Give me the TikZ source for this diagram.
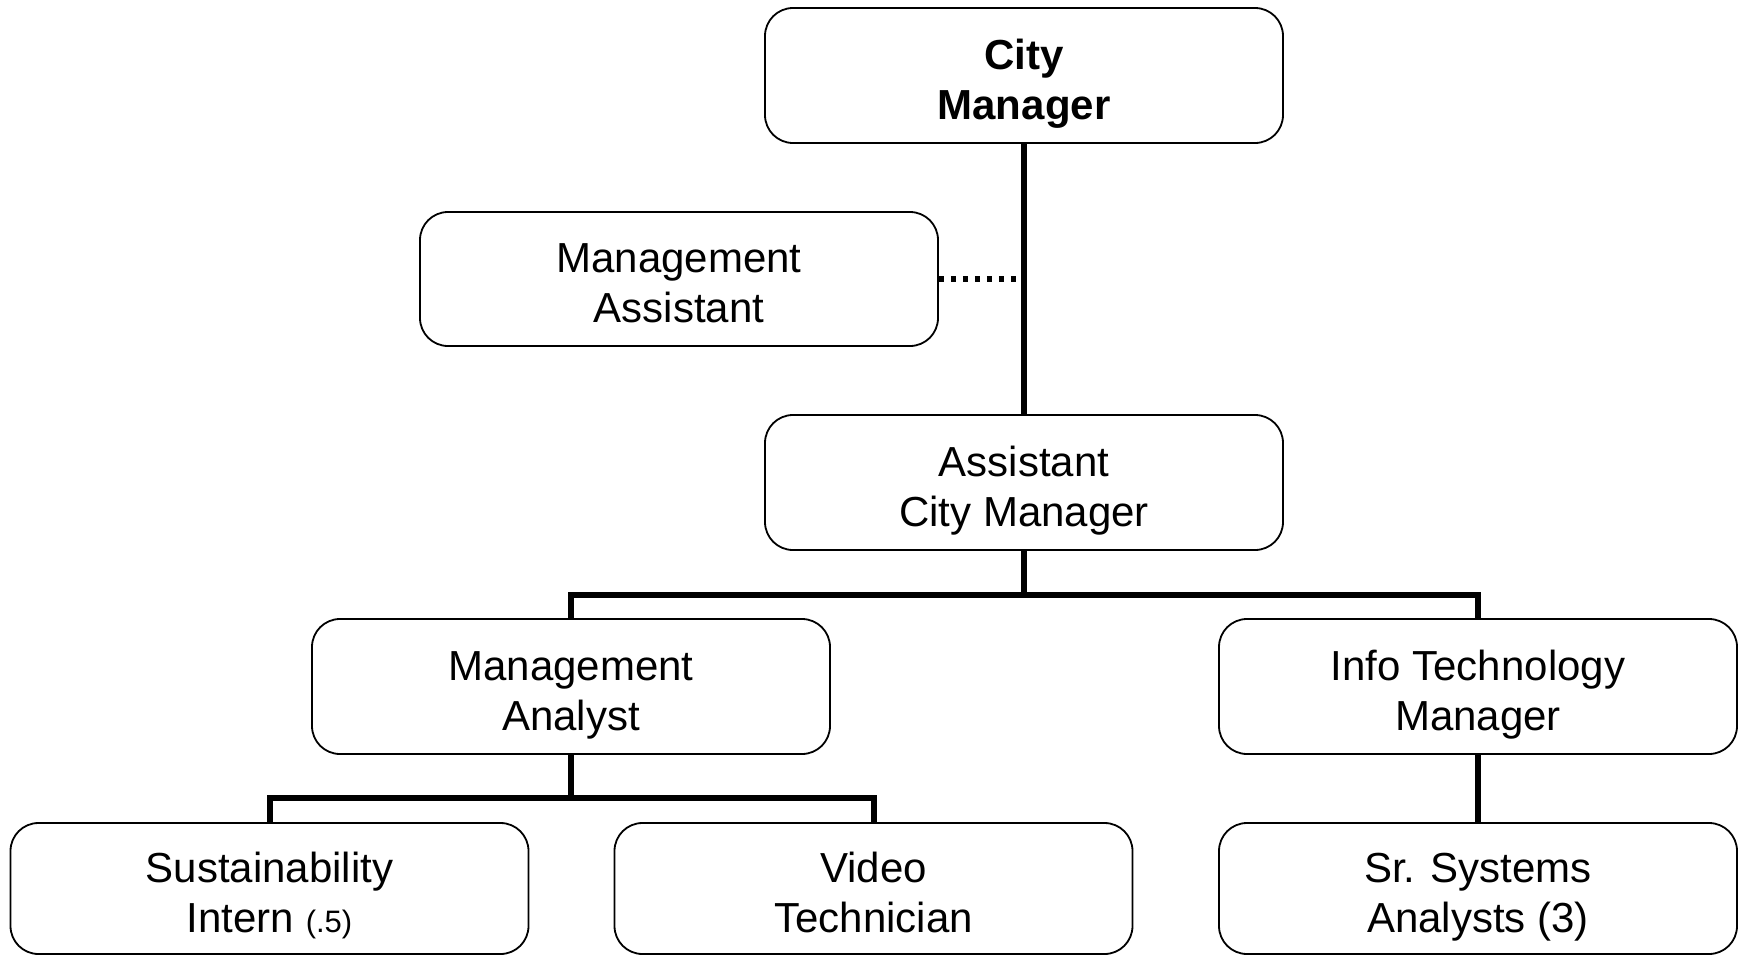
\documentclass[tikz,border=0pt]{standalone}
\usepackage{fontspec}
\setmainfont{Liberation Sans}
\newcommand{\topstr}{\rule{0pt}{46pt}}
\newcommand{\botstr}{\rule[-9pt]{0pt}{9pt}}
\begin{document}
\begin{tikzpicture}[x=1pt,y=-1pt,
  box/.style={draw=black, line width=1.8pt, rounded corners=28pt, fill=white,
    minimum width=518pt, minimum height=135pt, inner sep=0pt, align=center,
    font=\fontsize{42}{50}\selectfont},
  lowbox/.style={box, minimum height=131pt},
  conn/.style={draw=black, line width=6pt, line join=miter},
  dotconn/.style={draw=black, line width=5.5pt, dash pattern=on 5.5pt off 6.5pt}]
\useasboundingbox[fill=white] (0,0) rectangle (1746,956);
\coordinate (bus1) at (1024,595);
\coordinate (bus2) at (571,798);
\node[box] (cm) at (1024,75.5) {\topstr\bfseries City\\\bfseries Manager\botstr};
\node[box, minimum height=134pt] (mas) at (679,279) {\topstr Management\\Assistant\botstr};
\node[box] (acm) at (1024,482.5) {\topstr Assistant\\City Manager\botstr};
\node[box] (ma) at (571,686.5) {\topstr Management\\Analyst\botstr};
\node[box] (it) at (1478,686.5) {\topstr Info Technology\\Manager\botstr};
\node[lowbox] (si) at (269.5,888.5) {\topstr Sustainability\\Intern {\fontsize{31}{50}\selectfont(.5)}\botstr};
\node[lowbox] (vt) at (873.5,888.5) {\topstr Video\\Technician\botstr};
\node[lowbox] (ss) at (1478,888.5) {\topstr Sr. Systems\\Analysts (3)\botstr};
\draw[conn] (cm.south) -- (acm.north);
\draw[dotconn] (mas.east) -- (mas.east -| cm.south);
\draw[conn] (acm.south) -- (bus1);
\draw[conn] (ma.north) |- (bus1) -| (it.north);
\draw[conn] (ma.south) -- (bus2);
\draw[conn] (si.north) |- (bus2) -| (vt.north);
\draw[conn] (it.south) -- (ss.north);
\end{tikzpicture}
\end{document}
